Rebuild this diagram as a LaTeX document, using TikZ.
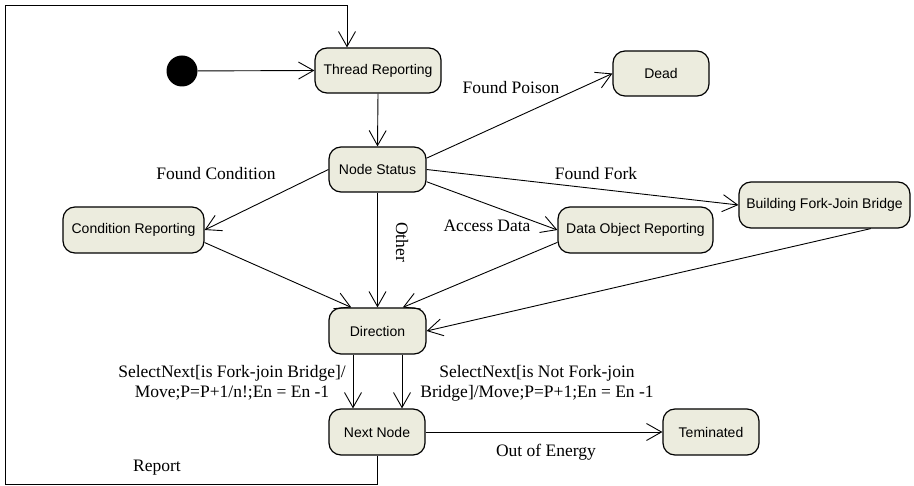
\documentclass[tikz,border=0pt]{standalone}
\usepackage{fontspec}
\setmainfont{Liberation Serif}
\newfontfamily\nodefont{Liberation Sans}
\usetikzlibrary{arrows.meta}
\definecolor{boxfill}{RGB}{236,236,222}
\begin{document}
\begin{tikzpicture}[x=1pt,y=-1pt,
  statebox/.style={draw, line width=1.2pt, rounded corners=12pt, fill=boxfill,
    font=\nodefont\fontsize{14}{16}\selectfont, inner sep=0pt, minimum height=46pt},
  conn/.style={line width=0.9pt, -{Straight Barb[length=15pt,width=17pt]}},
  lbl/.style={font=\fontsize{17.5}{20}\selectfont, inner sep=0pt}]
\useasboundingbox (0,0) rectangle (914,486);
% states
\node[fill=black, circle, minimum size=31pt, inner sep=0pt] (init) at (182,71) {};
\node[statebox, minimum width=126pt, minimum height=45pt] (tr) at (378,70.5) {Thread Reporting};
\node[statebox, minimum width=96pt, minimum height=45pt] (dead) at (661,73.5) {Dead};
\node[statebox, minimum width=97pt, minimum height=45pt] (ns) at (377.5,169.5) {Node Status};
\node[statebox, minimum width=141pt] (cr) at (133.5,230) {Condition Reporting};
\node[statebox, minimum width=155pt] (dor) at (635.5,230) {Data Object Reporting};
\node[statebox, minimum width=171pt] (bfj) at (824.5,205) {Building Fork-Join Bridge};
\node[statebox, minimum width=97pt] (dir) at (377.5,331) {Direction};
\node[statebox, minimum width=96pt] (nn) at (377,432) {Next Node};
\node[statebox, minimum width=96pt] (tem) at (711,432) {Teminated};
% loop corners
\coordinate (lb) at (5,484);
\coordinate (lt) at (5,5);
% connectors
\draw[conn] (init) -- (tr.west);
\draw[conn] (tr.south) -- (ns.north);
\draw[conn] (ns.13) -- (dead.west);
\draw[conn] (ns.east) -- (bfj.west);
\draw[conn] (ns.-14) -- (dor.west);
\draw[conn] (ns.west) -- (cr.east);
\draw[conn] (ns.south) -- (dir.north);
\draw[conn] (cr.-10) -- (dir.138);
\draw[conn] (dor.189) -- (dir.43);
\draw[conn] (bfj.-27) -- (dir.east);
\draw[conn] ([xshift=-24.5pt]dir.south) -- ([xshift=-24pt]nn.north);
\draw[conn] ([xshift=24.5pt]dir.south) -- ([xshift=25pt]nn.north);
\draw[conn] (nn.east) -- (tem.west);
\draw[conn] (nn.south) |- (lb) -- (lt) -| ([xshift=-31pt]tr.north);
% labels
\node[lbl] (lpoison) at (511,88) {Found Poison};
\node[lbl] (lfork) at (596,174) {Found Fork};
\node[lbl] (lcond) at (216,174) {Found Condition};
\node[lbl] (lacc) at (487,226) {Access Data};
\node[lbl, rotate=-90] (lother) at (402,242) {Other};
\node[lbl, align=center] (lsel1) at (232,383) {SelectNext[is Fork-join Bridge]/\\Move;P=P+1/n!;En = En -1};
\node[lbl, align=center] (lsel2) at (537,383) {SelectNext[is Not Fork-join\\Bridge]/Move;P=P+1;En = En -1};
\node[lbl] (lrep) at (157,468) {Report};
\node[lbl] (lout) at (546,452) {Out of Energy};
\end{tikzpicture}
\end{document}
